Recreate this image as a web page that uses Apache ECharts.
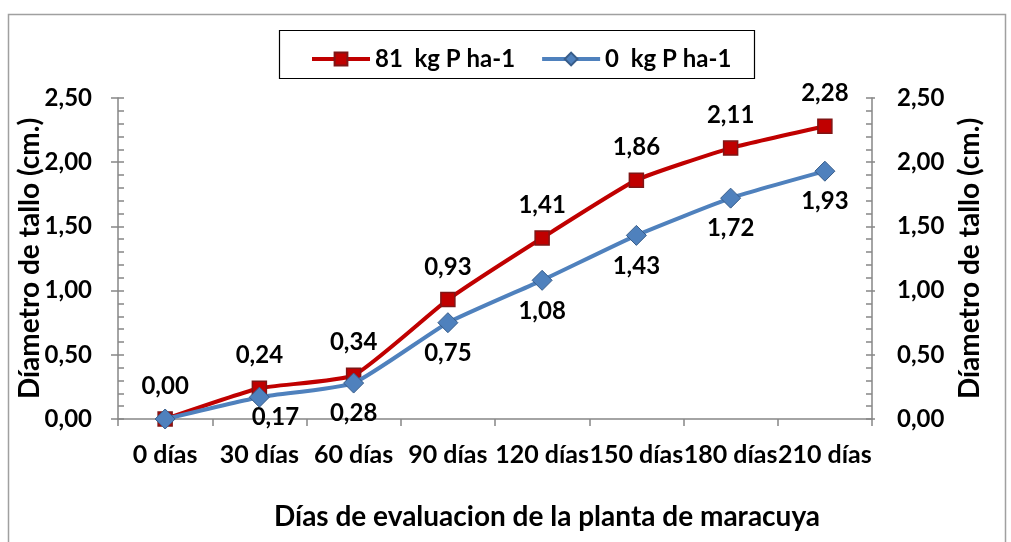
<!DOCTYPE html>
<html><head><meta charset="utf-8">
<script src="https://cdn.jsdelivr.net/npm/echarts@6/dist/echarts.min.js"></script>
<style>html,body{margin:0;padding:0;background:#fff}#c{width:1011px;height:542px}</style>
</head><body><div id="c"></div>
<script>
const categories = ['0 días','30 días','60 días','90 días','120 días','150 días','180 días','210 días'];
const series81 = [0.00, 0.24, 0.34, 0.93, 1.41, 1.86, 2.11, 2.28];
const series0 = [0.00, 0.17, 0.28, 0.75, 1.08, 1.43, 1.72, 1.93];
const seriesNames = ['81  kg P ha-1', '0  kg P ha-1'];
const yTicks = [0, 0.5, 1, 1.5, 2, 2.5];

const FONT = 'Lato';
const fmt = v => Number(v).toFixed(2).replace('.', ',');
const axisGrey = '#868686';

const chart = echarts.init(document.getElementById('c'), null, {renderer: 'canvas'});

function yAx(pos, opts) {
  return Object.assign({
    type: 'value', position: pos, min: yTicks[0], max: yTicks[yTicks.length - 1], interval: 0.5,
    axisLine: {show: true, lineStyle: {color: axisGrey, width: 1.5}},
    splitLine: {show: false}
  }, opts);
}

const labelStyle = {fontFamily: FONT, fontWeight: 'bold', fontSize: 24, color: '#000'};
const nameStyle = {fontFamily: FONT, fontWeight: 'bold', fontSize: 28, color: '#000'};

chart.setOption({
  animation: false,
  backgroundColor: '#fff',
  graphic: [
    {type: 'rect', shape: {x: 8.5, y: 14.5, width: 997, height: 540}, style: {fill: null, stroke: '#a0a0a0', lineWidth: 1.5}, silent: true},
    {type: 'rect', shape: {x: 279.5, y: 30.5, width: 475, height: 48}, style: {fill: '#fff', stroke: '#000', lineWidth: 1.2}, silent: true, z: -1}
  ],
  legend: {
    left: 305, top: 42, itemWidth: 58, itemHeight: 16, itemGap: 25,
    lineStyle: {width: 4},
    textStyle: {fontFamily: FONT, fontWeight: 'bold', fontSize: 24, color: '#000'},
    data: seriesNames
  },
  grid: {left: 118, right: 139, top: 98, bottom: 123, containLabel: false},
  xAxis: {
    type: 'category', data: categories, boundaryGap: true,
    axisLine: {lineStyle: {color: axisGrey, width: 1.5}},
    axisTick: {show: true, length: 7, lineStyle: {color: axisGrey, width: 1.5}},
    axisLabel: {fontFamily: FONT, fontWeight: 'bold', fontSize: 25, color: '#000', margin: 23, interval: 0},
    name: 'Días de evaluacion de la planta de maracuya', nameLocation: 'middle', nameGap: 84,
    nameMoveOverlap: false,
    nameTextStyle: Object.assign({padding: [0, 0, 0, 104]}, nameStyle)
  },
  yAxis: [
    yAx('left', {
      axisTick: {show: true, inside: true, length: 6, lineStyle: {color: axisGrey, width: 1.5}},
      minorTick: {show: true, splitNumber: 5, length: 6, lineStyle: {color: axisGrey, width: 1.5}},
      axisLabel: {formatter: fmt, fontFamily: FONT, fontWeight: 'bold', fontSize: 24, color: '#000', margin: 26},
      name: 'Díametro de tallo (cm.)', nameLocation: 'middle', nameRotate: 90, nameGap: 74,
      nameMoveOverlap: false,
      nameTextStyle: nameStyle
    }),
    yAx('right', {
      axisTick: {show: true, inside: true, length: 6, lineStyle: {color: axisGrey, width: 1.5}},
      minorTick: {show: true, splitNumber: 5, length: 6, lineStyle: {color: axisGrey, width: 1.5}},
      axisLabel: {formatter: fmt, fontFamily: FONT, fontWeight: 'bold', fontSize: 24, color: '#000', margin: 25},
      name: 'Díametro de tallo (cm.)', nameLocation: 'middle', nameRotate: 90, nameGap: 84,
      nameMoveOverlap: false,
      nameTextStyle: nameStyle
    }),
    yAx('left', {
      axisLine: {show: false},
      axisTick: {show: true, inside: false, length: 7, lineStyle: {color: axisGrey, width: 1.5}},
      axisLabel: {show: false}
    }),
    yAx('right', {
      axisLine: {show: false},
      axisTick: {show: true, inside: false, length: 3, lineStyle: {color: axisGrey, width: 1.5}},
      axisLabel: {show: false}
    })
  ],
  series: [
    {
      name: seriesNames[0], type: 'line', yAxisIndex: 0, data: series81, smooth: 0.15,
      symbol: 'rect', symbolSize: 14,
      lineStyle: {color: '#c00000', width: 4},
      itemStyle: {color: '#c00000', borderColor: '#7f1515', borderWidth: 1.5},
      label: Object.assign({show: true, position: 'top', distance: 13, formatter: p => fmt(p.value)}, labelStyle),
      z: 3
    },
    {
      name: seriesNames[1], type: 'line', yAxisIndex: 0,
      data: series0.map((v, i) => i === 0 ? {value: v, label: {show: false}}
        : i === 1 ? {value: v, label: {offset: [16, -10]}} : v),
      smooth: 0.15,
      symbol: 'diamond', symbolSize: 20,
      lineStyle: {color: '#4f81bd', width: 4},
      itemStyle: {color: '#4f81bd', borderColor: '#385d8a', borderWidth: 1},
      label: Object.assign({show: true, position: 'bottom', distance: 8, formatter: p => fmt(p.value)}, labelStyle),
      z: 4
    }
  ]
});
</script>
</body></html>
